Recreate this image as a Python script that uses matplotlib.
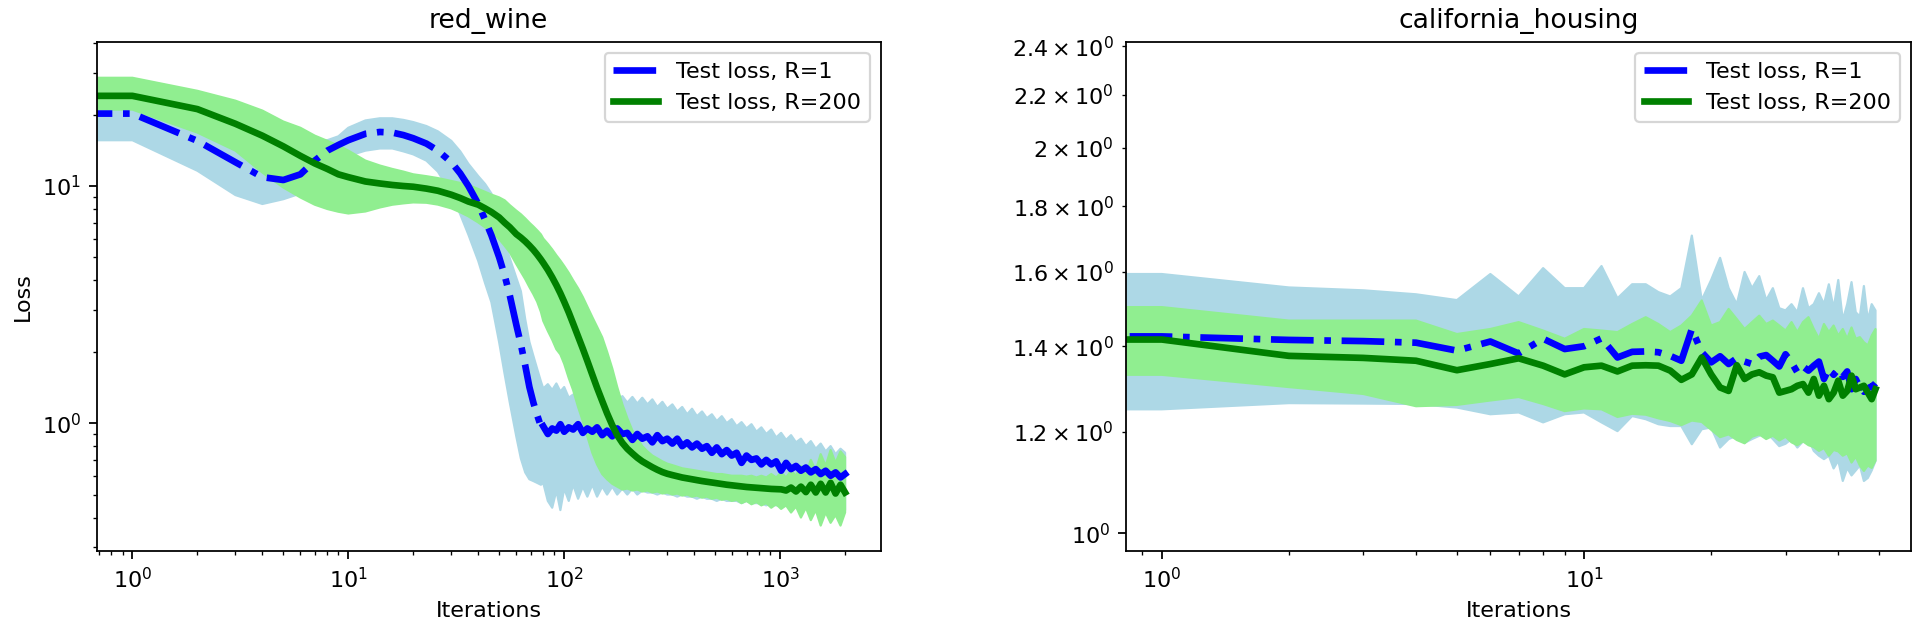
import matplotlib
matplotlib.use("Agg")
import matplotlib.pyplot as plt
from matplotlib.ticker import FixedLocator, FixedFormatter

# ---------------- red_wine (left) ----------------
wine_head_iters = [0, 1, 2, 3, 4, 5, 6, 7, 8, 9,
                   10, 12, 14, 16, 18, 20, 23, 26, 30, 33, 36, 40,
                   43, 46, 50, 53, 56, 60, 63, 66, 69, 72, 75, 78]
wine_tail_iters = [80, 84, 88, 92, 96, 100, 105, 110, 116, 122,
                   128, 135, 142, 150, 158, 167, 176, 186, 196, 207,
                   218, 230, 243, 256, 270, 285, 300, 317, 334, 352,
                   371, 391, 412, 435, 458, 483, 509, 537, 566, 597,
                   629, 663, 699, 737, 777, 819, 863, 910, 959, 1011,
                   1066, 1124, 1185, 1249, 1317, 1388, 1463, 1542, 1626, 1714,
                   1807, 1905, 2000]

wine_r1_mean = [20.2, 20.2, 15.5, 12.6, 10.9, 10.6, 11.2, 12.8, 14.1, 14.9,
                15.6, 16.6, 16.9, 16.8, 16.4, 15.9, 15.1, 14.1, 12.6, 11.3, 10.0, 8.4,
                7.2, 6.2, 5.0, 4.2, 3.45, 2.6, 2.15, 1.75, 1.42, 1.22, 1.08, 0.97] + \
               [0.97, 0.90, 0.95, 0.93, 0.99, 0.92, 0.96, 0.94, 0.99, 0.91,
                0.95, 0.92, 0.96, 0.89, 0.93, 0.88, 0.95, 0.90, 0.91, 0.85,
                0.90, 0.86, 0.88, 0.83, 0.89, 0.84, 0.86, 0.82, 0.86, 0.80,
                0.83, 0.79, 0.82, 0.78, 0.80, 0.75, 0.79, 0.74, 0.77, 0.73,
                0.75, 0.68, 0.73, 0.70, 0.71, 0.67, 0.70, 0.67, 0.69, 0.63,
                0.68, 0.64, 0.66, 0.63, 0.65, 0.62, 0.64, 0.61, 0.63, 0.60,
                0.62, 0.59, 0.61]
wine_r1_upper = [25.5, 25.5, 20.0, 16.5, 14.5, 13.8, 14.5, 15.5, 15.6, 16.2,
                 17.6, 18.9, 19.3, 19.3, 19.0, 18.6, 17.9, 17.0, 15.5, 14.0, 12.4, 11.0,
                 10.2, 9.3, 7.0, 5.8, 4.95, 4.1, 3.6, 2.74, 2.2, 1.92, 1.69, 1.50] + \
                [1.40, 1.46, 1.38, 1.47, 1.36, 1.42, 1.28, 1.32, 1.22, 1.28,
                 1.21, 1.29, 1.22, 1.30, 1.23, 1.31, 1.23, 1.30, 1.22, 1.29,
                 1.21, 1.28, 1.20, 1.26, 1.17, 1.23, 1.15, 1.20, 1.12, 1.17,
                 1.09, 1.15, 1.07, 1.12, 1.05, 1.09, 1.02, 1.07, 1.00, 1.04,
                 0.97, 1.01, 0.95, 0.99, 0.92, 0.96, 0.90, 0.94, 0.87, 0.91,
                 0.85, 0.89, 0.83, 0.86, 0.80, 0.84, 0.78, 0.82, 0.76, 0.80,
                 0.74, 0.78, 0.75]
wine_r1_lower = [15.6, 15.6, 11.6, 9.16, 8.4, 8.8, 9.3, 10.3, 11.3, 12.4,
                 13.4, 14.1, 14.4, 14.4, 14.0, 13.6, 12.8, 11.5, 9.3, 7.6, 6.24, 4.83,
                 3.9, 3.24, 2.19, 1.61, 1.22, 0.88, 0.71, 0.62, 0.58, 0.57, 0.56, 0.55] + \
                [0.56, 0.47, 0.44, 0.52, 0.43, 0.53, 0.47, 0.55, 0.48, 0.54,
                 0.49, 0.55, 0.49, 0.54, 0.50, 0.54, 0.50, 0.53, 0.50, 0.53,
                 0.50, 0.52, 0.51, 0.51, 0.50, 0.51, 0.50, 0.50, 0.49, 0.50,
                 0.49, 0.49, 0.48, 0.49, 0.48, 0.48, 0.47, 0.48, 0.47, 0.47,
                 0.47, 0.46, 0.47, 0.46, 0.46, 0.46, 0.45, 0.46, 0.45, 0.45,
                 0.45, 0.44, 0.45, 0.44, 0.44, 0.44, 0.43, 0.44, 0.43, 0.43,
                 0.43, 0.42, 0.43]

wine_r200_mean = [24.0, 24.0, 21.1, 18.3, 16.3, 14.7, 13.4, 12.45, 11.8, 11.2,
                  10.9, 10.45, 10.25, 10.1, 10.0, 9.93, 9.75, 9.55, 9.19, 8.9, 8.6, 8.34,
                  8.05, 7.77, 7.37, 7.0, 6.7, 6.27, 6.06, 5.84, 5.61, 5.38, 5.14, 4.90] + \
                 [4.74, 4.43, 4.12, 3.82, 3.53, 3.25, 2.93, 2.63, 2.32, 2.06,
                  1.83, 1.60, 1.41, 1.24, 1.10, 0.98, 0.89, 0.825, 0.78, 0.745,
                  0.715, 0.69, 0.67, 0.652, 0.636, 0.622, 0.612, 0.604, 0.597, 0.59,
                  0.585, 0.58, 0.575, 0.57, 0.566, 0.562, 0.558, 0.554, 0.55, 0.547,
                  0.544, 0.541, 0.538, 0.536, 0.534, 0.532, 0.530, 0.528, 0.527, 0.526,
                  0.52, 0.535, 0.515, 0.54, 0.512, 0.55, 0.51, 0.555, 0.51, 0.56,
                  0.505, 0.55, 0.51]
wine_r200_upper = [28.6, 28.6, 25.2, 22.9, 20.8, 18.7, 17.6, 16.3, 15.5, 14.8,
                   14.1, 12.8, 12.2, 11.8, 11.5, 11.2, 11.0, 10.8, 10.5, 10.3, 10.1, 9.71,
                   9.45, 9.2, 8.95, 8.7, 8.3, 7.87, 7.6, 7.3, 7.0, 6.75, 6.5, 6.25] + \
                  [6.0, 5.7, 5.4, 5.1, 4.85, 4.6, 4.3, 4.0, 3.7, 3.4,
                   3.1, 2.8, 2.55, 2.3, 2.0, 1.7, 1.42, 1.2, 1.05, 0.93,
                   0.86, 0.80, 0.76, 0.73, 0.71, 0.69, 0.675, 0.665, 0.655, 0.645,
                   0.64, 0.635, 0.63, 0.625, 0.62, 0.615, 0.61, 0.61, 0.605, 0.60,
                   0.60, 0.60, 0.595, 0.60, 0.59, 0.60, 0.59, 0.61, 0.59, 0.62,
                   0.59, 0.63, 0.60, 0.66, 0.61, 0.70, 0.63, 0.74, 0.66, 0.77,
                   0.68, 0.76, 0.72]
wine_r200_lower = [21.0, 21.0, 16.8, 14.1, 11.4, 9.86, 8.95, 8.34, 8.0, 7.79,
                   7.66, 7.81, 8.12, 8.34, 8.45, 8.53, 8.5, 8.35, 8.05, 7.75, 7.45, 7.02,
                   6.7, 6.45, 5.97, 5.6, 5.25, 4.69, 4.35, 4.05, 3.75, 3.5, 3.25, 2.95] + \
                  [2.7, 2.45, 2.25, 2.05, 1.95, 1.78, 1.55, 1.38, 1.17, 1.02,
                   0.88, 0.75, 0.67, 0.61, 0.58, 0.555, 0.54, 0.525, 0.53, 0.52,
                   0.525, 0.515, 0.52, 0.51, 0.515, 0.505, 0.51, 0.50, 0.505, 0.495,
                   0.50, 0.49, 0.495, 0.485, 0.49, 0.48, 0.485, 0.475, 0.48, 0.47,
                   0.475, 0.46, 0.47, 0.455, 0.465, 0.45, 0.46, 0.44, 0.455, 0.435,
                   0.45, 0.42, 0.445, 0.40, 0.44, 0.39, 0.43, 0.37, 0.42, 0.38,
                   0.41, 0.37, 0.42]

# ---------------- california_housing (right) ----------------
housing_iters = list(range(50))
housing_r1_mean = [1.425, 1.425, 1.416, 1.413, 1.409, 1.389, 1.412, 1.382, 1.419, 1.393,
                   1.400, 1.420, 1.372, 1.386, 1.387, 1.385, 1.376, 1.364, 1.444, 1.385,
                   1.360, 1.375, 1.356, 1.370, 1.362, 1.356, 1.374, 1.378, 1.364, 1.350,
                   1.380, 1.360, 1.336, 1.350, 1.340, 1.352, 1.362, 1.320, 1.345, 1.330,
                   1.344, 1.325, 1.338, 1.296, 1.320, 1.300, 1.290, 1.318, 1.300, 1.310]
housing_r1_upper = [1.594, 1.594, 1.556, 1.548, 1.537, 1.521, 1.594, 1.531, 1.611, 1.554,
                    1.554, 1.617, 1.526, 1.565, 1.565, 1.543, 1.531, 1.554, 1.708, 1.521,
                    1.577, 1.641, 1.554, 1.510, 1.600, 1.554, 1.588, 1.521, 1.554, 1.499,
                    1.493, 1.510, 1.488, 1.554, 1.499, 1.510, 1.540, 1.510, 1.565, 1.499,
                    1.577, 1.467, 1.510, 1.571, 1.488, 1.477, 1.560, 1.467, 1.510, 1.493]
housing_r1_lower = [1.250, 1.250, 1.264, 1.263, 1.262, 1.254, 1.239, 1.243, 1.221, 1.239,
                    1.243, 1.221, 1.202, 1.235, 1.228, 1.217, 1.213, 1.213, 1.174, 1.206,
                    1.210, 1.167, 1.185, 1.192, 1.177, 1.185, 1.192, 1.199, 1.185, 1.170,
                    1.175, 1.185, 1.167, 1.180, 1.185, 1.160, 1.150, 1.143, 1.150, 1.124,
                    1.140, 1.099, 1.125, 1.110, 1.120, 1.130, 1.099, 1.105, 1.120, 1.139]
housing_r200_mean = [1.417, 1.417, 1.376, 1.371, 1.364, 1.341, 1.356, 1.370, 1.352, 1.331,
                     1.348, 1.352, 1.338, 1.352, 1.353, 1.352, 1.340, 1.318, 1.331, 1.372,
                     1.331, 1.300, 1.292, 1.353, 1.320, 1.331, 1.336, 1.328, 1.324, 1.288,
                     1.292, 1.296, 1.304, 1.308, 1.288, 1.320, 1.281, 1.304, 1.273, 1.288,
                     1.316, 1.281, 1.292, 1.328, 1.296, 1.300, 1.304, 1.288, 1.273, 1.296]
housing_r200_upper = [1.502, 1.502, 1.466, 1.466, 1.466, 1.431, 1.444, 1.462, 1.440, 1.419,
                      1.444, 1.440, 1.436, 1.457, 1.475, 1.457, 1.436, 1.453, 1.479, 1.520,
                      1.453, 1.462, 1.497, 1.470, 1.444, 1.462, 1.479, 1.457, 1.466, 1.453,
                      1.440, 1.462, 1.436, 1.462, 1.475, 1.444, 1.419, 1.457, 1.436, 1.453,
                      1.427, 1.444, 1.419, 1.448, 1.419, 1.423, 1.410, 1.402, 1.427, 1.444]
housing_r200_lower = [1.330, 1.330, 1.301, 1.285, 1.257, 1.260, 1.270, 1.278, 1.262, 1.246,
                      1.252, 1.250, 1.233, 1.240, 1.238, 1.230, 1.224, 1.215, 1.225, 1.222,
                      1.205, 1.189, 1.195, 1.183, 1.176, 1.190, 1.195, 1.185, 1.192, 1.182,
                      1.190, 1.178, 1.172, 1.180, 1.172, 1.168, 1.160, 1.166, 1.150, 1.162,
                      1.159, 1.150, 1.155, 1.136, 1.148, 1.130, 1.119, 1.130, 1.125, 1.140]

housing_minor_ticks = [1.2, 1.4, 1.6, 1.8, 2.0, 2.2, 2.4]
housing_minor_labels = ["1.2", "1.4", "1.6", "1.8", "2", "2.2", "2.4"]

labels = ["Test loss, R=1", "Test loss, R=200"]

# ---------------- figure ----------------
fig = plt.figure(figsize=(12, 3.9375), dpi=160)
ax1 = fig.add_axes([0.0504, 0.1254, 0.4083, 0.8084])
ax2 = fig.add_axes([0.5865, 0.1254, 0.4089, 0.8084])

wine_iters = wine_head_iters + wine_tail_iters
n_head = len(wine_head_iters)
for ax in (ax1, ax2):
    ax.set_xscale("log")
    ax.set_yscale("log")

ax1.fill_between(wine_iters, wine_r1_lower, wine_r1_upper, color="lightblue")
ax1.fill_between(wine_iters, wine_r200_lower, wine_r200_upper, color="lightgreen")
# the noisy tail of the R=1 curve renders as a dense, solid-looking band
ax1.plot(wine_iters[:n_head + 1], wine_r1_mean[:n_head + 1], color="blue",
         ls="-.", lw=3, label=labels[0])
ax1.plot(wine_iters[n_head:], wine_r1_mean[n_head:], color="blue", ls="-", lw=3)
ax1.plot(wine_iters, wine_r200_mean, color="green", ls="-", lw=3, label=labels[1])
ax1.set_xlim(2000 ** -0.05, 2000 ** 1.05)
ax1.set_ylim(0.289, 40.6)
ax1.set_title("red_wine")
ax1.set_xlabel("Iterations")
ax1.set_ylabel("Loss")
ax1.legend(loc="upper right")

ax2.fill_between(housing_iters, housing_r1_lower, housing_r1_upper, color="lightblue")
ax2.fill_between(housing_iters, housing_r200_lower, housing_r200_upper, color="lightgreen")
ax2.plot(housing_iters, housing_r1_mean, color="blue", ls="-.", lw=3, label=labels[0])
ax2.plot(housing_iters, housing_r200_mean, color="green", ls="-", lw=3, label=labels[1])
ax2.set_xlim(49 ** -0.05, 49 ** 1.05)
ax2.set_ylim(0.969, 2.42)
ax2.yaxis.set_minor_locator(FixedLocator(housing_minor_ticks))
ax2.yaxis.set_minor_formatter(FixedFormatter(
    [r"$\mathdefault{%s\times10^{0}}$" % s for s in housing_minor_labels]))
ax2.set_title("california_housing")
ax2.set_xlabel("Iterations")
ax2.legend(loc="upper right")

fig.savefig("out.png", dpi=160)
